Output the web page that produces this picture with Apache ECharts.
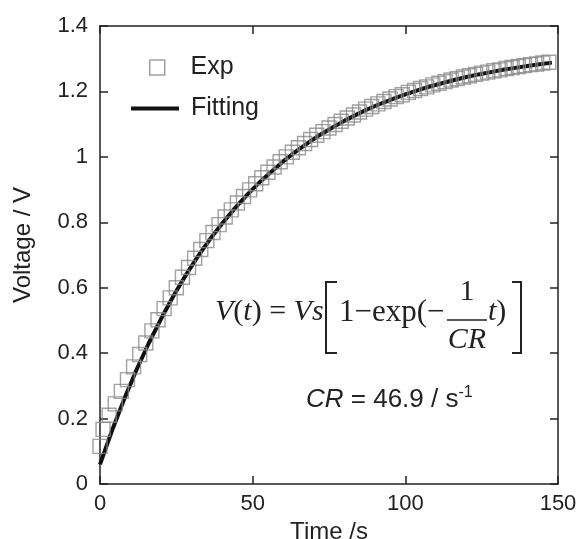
<!DOCTYPE html>
<html>
<head>
<meta charset="utf-8">
<script src="https://cdn.jsdelivr.net/npm/echarts@6/dist/echarts.min.js"></script>
<style>html,body{margin:0;padding:0;background:#fff;}#c{width:579px;height:539px;}</style>
</head>
<body>
<div id="c"></div>
<script>
// Experimental data (time in s, voltage in V)
const timeExp = [0,1,3,5,7,9,11,13,15,17,19,21,23,25,27,29,31,33,35,37,39,41,43,45,47,49,51,53,55,57,59,61,63,65,67,69,71,73,75,77,79,81,83,85,87,89,91,93,95,97,99,101,103,105,107,109,111,113,115,117,119,121,123,125,127,129,131,133,135,137,139,141,143,145,147];
const voltExp = [0.115,0.167,0.210,0.245,0.283,0.319,0.358,0.396,0.431,0.468,0.502,0.536,0.569,0.600,0.632,0.662,0.690,0.717,0.744,0.769,0.793,0.816,0.838,0.859,0.879,0.899,0.918,0.936,0.953,0.969,0.985,1.000,1.014,1.028,1.041,1.053,1.066,1.077,1.088,1.099,1.109,1.119,1.128,1.137,1.146,1.154,1.162,1.169,1.177,1.184,1.190,1.197,1.203,1.209,1.214,1.220,1.225,1.230,1.235,1.239,1.244,1.248,1.252,1.256,1.259,1.263,1.266,1.270,1.273,1.276,1.279,1.282,1.284,1.287,1.289];
// Fitting curve
const timeFit = [0,4,8,12,16,20,24,28,32,36,40,44,48,52,56,60,64,68,72,76,80,84,88,92,96,100,104,108,112,116,120,124,128,132,136,140,144,148];
const voltFit = [0.060,0.165,0.261,0.350,0.431,0.505,0.574,0.637,0.695,0.748,0.796,0.841,0.882,0.920,0.954,0.986,1.015,1.042,1.067,1.089,1.110,1.129,1.147,1.163,1.177,1.191,1.203,1.215,1.225,1.235,1.244,1.252,1.259,1.266,1.272,1.278,1.283,1.288];
const seriesNames = ['Exp', 'Fitting'];
const xAxisName = 'Time /s';
const yAxisName = 'Voltage / V';

const expData = timeExp.map((t, i) => [t, voltExp[i]]);
const fitData = timeFit.map((t, i) => [t, voltFit[i]]);

const chart = echarts.init(document.getElementById('c'), null, {renderer: 'canvas'});
const axisCol = '#222';
const txtCol = '#222';
const sans = 'Liberation Sans, Arial, sans-serif';
const serif = 'Liberation Serif, Times New Roman, serif';

function baseX(extra) {
  return Object.assign({
    type: 'value', min: 0, max: 150, interval: 50,
    axisLine: {show: true, onZero: false, lineStyle: {color: axisCol, width: 1.5}},
    axisTick: {show: true, inside: true, length: 8, lineStyle: {color: axisCol, width: 1.5}},
    splitLine: {show: false}
  }, extra);
}
function baseY(extra) {
  return Object.assign({
    type: 'value', min: 0, max: 1.4, interval: 0.2,
    axisLine: {show: true, onZero: false, lineStyle: {color: axisCol, width: 1.5}},
    axisTick: {show: true, inside: true, length: 8, lineStyle: {color: axisCol, width: 1.5}},
    splitLine: {show: false}
  }, extra);
}

const option = {
  animation: false,
  backgroundColor: '#fff',
  grid: {left: 100, right: 21, top: 26, bottom: 55, containLabel: false, outerBoundsMode: 'none'},
  xAxis: [
    baseX({position: 'bottom', name: xAxisName, nameLocation: 'middle', nameGap: 25,
      nameTextStyle: {fontSize: 24, color: txtCol, fontFamily: sans},
      axisLabel: {fontSize: 22, color: txtCol, fontFamily: sans, margin: 9}}),
    baseX({position: 'top', axisLabel: {show: false}})
  ],
  yAxis: [
    baseY({position: 'left', name: yAxisName, nameLocation: 'middle', nameGap: 65,
      nameTextStyle: {fontSize: 24, color: txtCol, fontFamily: sans, padding: [0, 0, 0, 20]},
      axisLabel: {fontSize: 22, color: txtCol, fontFamily: sans, margin: 12}}),
    baseY({position: 'right', axisLabel: {show: false}})
  ],
  legend: [
    {
      data: [{name: seriesNames[0], icon: 'rect'}],
      left: 144, top: 50, itemWidth: 15, itemHeight: 15,
      itemStyle: {color: 'rgba(0,0,0,0)', borderColor: '#8a8a8a', borderWidth: 1.5},
      formatter: n => '   ' + n,
      textStyle: {fontSize: 25, color: txtCol, fontFamily: sans}
    },
    {
      data: [{name: seriesNames[1], icon: 'rect'}],
      left: 126, top: 91, itemWidth: 48, itemHeight: 4,
      itemStyle: {color: '#111', borderWidth: 0},
      formatter: n => ' ' + n,
      textStyle: {fontSize: 25, color: txtCol, fontFamily: sans}
    }
  ],
  series: [
    {
      name: seriesNames[1], type: 'line', data: fitData, symbol: 'none', z: 2,
      lineStyle: {color: '#111', width: 4}, itemStyle: {color: '#111'}
    },
    {
      name: seriesNames[0], type: 'scatter', data: expData, symbol: 'rect', symbolSize: 14, z: 3,
      itemStyle: {color: 'rgba(0,0,0,0)', borderColor: '#8a8a8a', borderWidth: 1.4}
    }
  ],
  graphic: [
    {type: 'text', left: 215, top: 297, style: {
      text: '{i|V}{n|(}{i|t}{n|) = }{i|Vs}',
      rich: {
        i: {fontFamily: serif, fontStyle: 'italic', fontSize: 30, fill: txtCol},
        n: {fontFamily: serif, fontSize: 30, fill: txtCol}
      }}},
    {type: 'polyline', shape: {points: [[337, 282], [326, 282], [326, 353], [337, 353]]},
      style: {stroke: txtCol, lineWidth: 2, fill: null}},
    {type: 'text', left: 339, top: 297, style: {
      text: '1\u2212exp(\u2212', fontFamily: serif, fontSize: 31, fill: txtCol}},
    {type: 'text', x: 467, y: 292, style: {
      text: '1', fontFamily: serif, fontSize: 30, fill: txtCol, align: 'center', verticalAlign: 'middle'}},
    {type: 'line', shape: {x1: 447, y1: 320, x2: 487, y2: 320}, style: {stroke: txtCol, lineWidth: 1.5}},
    {type: 'text', x: 467, y: 340, style: {
      text: 'CR', fontFamily: serif, fontStyle: 'italic', fontSize: 30, fill: txtCol, align: 'center', verticalAlign: 'middle'}},
    {type: 'text', left: 488, top: 297, style: {
      text: '{i|t}{n|)}',
      rich: {
        i: {fontFamily: serif, fontStyle: 'italic', fontSize: 30, fill: txtCol},
        n: {fontFamily: serif, fontSize: 30, fill: txtCol}
      }}},
    {type: 'polyline', shape: {points: [[512, 282], [521, 282], [521, 353], [512, 353]]},
      style: {stroke: txtCol, lineWidth: 2, fill: null}},
    {type: 'text', left: 306, top: 385, style: {
      text: '{i|CR}{n| = 46.9 / s}{s|-1}',
      rich: {
        i: {fontFamily: sans, fontStyle: 'italic', fontSize: 26, fill: txtCol, lineHeight: 29},
        n: {fontFamily: sans, fontSize: 26, fill: txtCol, lineHeight: 29},
        s: {fontFamily: sans, fontSize: 16, fill: txtCol, verticalAlign: 'top', lineHeight: 29}
      }}}
  ]
};
chart.setOption(option);
</script>
</body>
</html>
